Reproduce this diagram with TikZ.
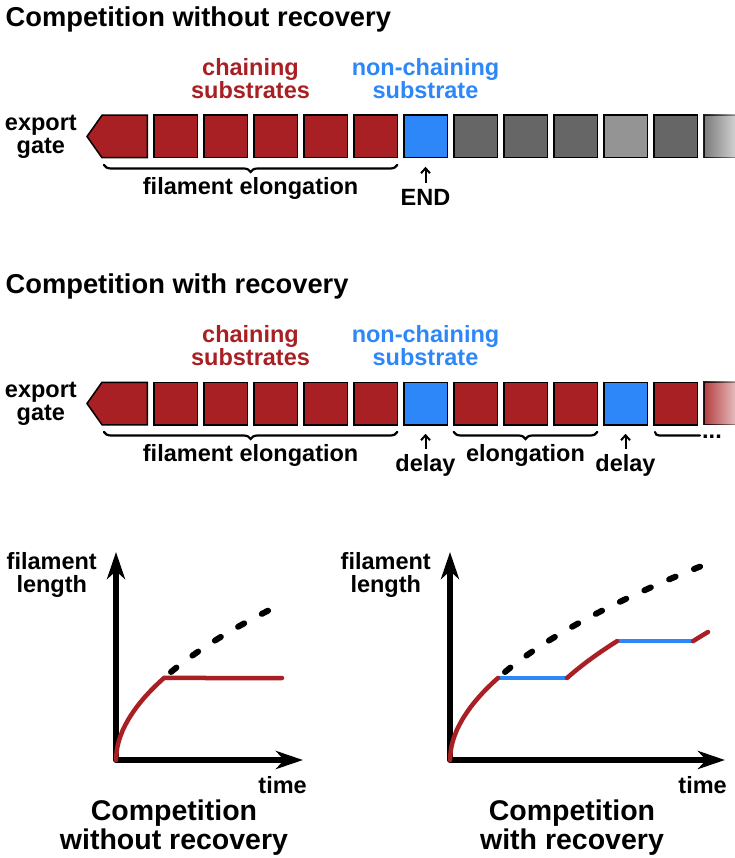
\documentclass[tikz,border=0pt]{standalone}
\usepackage{fontspec}
\setmainfont{Liberation Sans}
\usetikzlibrary{positioning, arrows.meta, decorations.pathreplacing, fadings}

\definecolor{chainred}{RGB}{168,32,36}
\definecolor{stopblue}{RGB}{46,135,248}
\definecolor{boxgray}{RGB}{102,102,102}
\definecolor{boxpale}{RGB}{148,148,148}
\tikzfading[name=fadeout, left color=transparent!0, middle color=transparent!100, right color=transparent!100]

\begin{document}
\begin{tikzpicture}[
    x=1pt, y=1pt,
    node distance=6.5pt,
    declare function={grow(\x)=82*(\x/48)^0.52;},
    chainbox/.style={rectangle, draw, line width=1.5pt, fill=chainred, minimum width=43.5pt, minimum height=42.5pt, inner sep=0pt, outer sep=0pt},
    stopbox/.style={chainbox, fill=stopblue},
    idlebox/.style={chainbox, fill=boxgray},
    palebox/.style={chainbox, fill=boxpale},
    gate/.style={draw, line width=1.5pt, fill=chainred},
    heading/.style={font=\fontsize{27.3}{30}\selectfont\bfseries, inner sep=0pt},
    note/.style={font=\fontsize{23.5}{23}\selectfont\bfseries, inner sep=0pt, align=center},
    plottitle/.style={font=\fontsize{28.5}{29}\selectfont\bfseries, inner sep=0pt, align=center},
    span/.style={decorate, decoration={brace, mirror, amplitude=7pt}, line width=2.2pt, line cap=round},
    pointer/.style={-{Straight Barb[length=5pt, width=9pt]}, line width=2pt, shorten <=6pt, shorten >=9pt},
    axisline/.style={line width=6pt, line join=round, {Stealth[length=27pt, width=18pt, inset=8pt]}-{Stealth[length=27pt, width=18pt, inset=8pt]}},
    growth/.style={chainred, line width=4.5pt, line cap=round},
    stall/.style={stopblue, line width=4.5pt},
    ideal/.style={line width=6pt, line cap=round, dash pattern=on 7pt off 20pt}
]
    \useasboundingbox (0,0) rectangle (734,-858);

    % Without recovery
    \node[heading, anchor=base west] (title1) at (5.5,-27) {Competition without recovery};
    \node[chainbox] (a1) at (175.5,-136.5) {};
    \node[chainbox, right=of a1] (a2) {};
    \node[chainbox, right=of a2] (a3) {};
    \node[chainbox, right=of a3] (a4) {};
    \node[chainbox, right=of a4] (a5) {};
    \node[stopbox, right=of a5] (a6) {};
    \node[idlebox, right=of a6] (a7) {};
    \node[idlebox, right=of a7] (a8) {};
    \node[idlebox, right=of a8] (a9) {};
    \node[palebox, right=of a9] (a10) {};
    \node[idlebox, right=of a10] (a11) {};
    \begin{scope}
        \path[scope fading=fadeout] ([shift={(-1pt,5pt)}]a11.north east) rectangle ([shift={(55pt,-5pt)}]a11.south east);
        \node[idlebox, right=of a11] (a12) {};
    \end{scope}
    \draw[gate] ([xshift=-6.5pt]a1.north west) -- ++(-45.25,0) -- ++(-15,-21.25) coordinate (gtip1)
        -- ++(15,-21.25) coordinate (gsw1) -- ([xshift=-6.5pt]a1.south west) -- cycle;
    \node[note, left=10pt of gtip1] (gatelbl1) {export\\gate};
    \node[note, text=chainred, above=16pt of a2.north east, xshift=3.25pt] (chainlbl1) {chaining\\substrates};
    \node[note, text=stopblue, above=16pt of a6] (stoplbl1) {non-chaining\\substrate};
    \draw[span] ([shift={(2pt,-7.25pt)}]gsw1) -- node[note, below=11pt] (elong1) {filament elongation} ([yshift=-7.25pt]a5.south east);
    \node[note, below=31pt of a6] (endlbl) {END};
    \draw[pointer] (endlbl) -- (a6);

    % With recovery
    \node[heading, anchor=base west] (title2) at (5.5,-293.3) {Competition with recovery};
    \node[chainbox] (b1) at (175.5,-403.5) {};
    \node[chainbox, right=of b1] (b2) {};
    \node[chainbox, right=of b2] (b3) {};
    \node[chainbox, right=of b3] (b4) {};
    \node[chainbox, right=of b4] (b5) {};
    \node[stopbox, right=of b5] (b6) {};
    \node[chainbox, right=of b6] (b7) {};
    \node[chainbox, right=of b7] (b8) {};
    \node[chainbox, right=of b8] (b9) {};
    \node[stopbox, right=of b9] (b10) {};
    \node[chainbox, right=of b10] (b11) {};
    \begin{scope}
        \path[scope fading=fadeout] ([shift={(-1pt,5pt)}]b11.north east) rectangle ([shift={(55pt,-5pt)}]b11.south east);
        \node[chainbox, right=of b11] (b12) {};
    \end{scope}
    \draw[gate] ([xshift=-6.5pt]b1.north west) -- ++(-45.25,0) -- ++(-15,-21.25) coordinate (gtip2)
        -- ++(15,-21.25) coordinate (gsw2) -- ([xshift=-6.5pt]b1.south west) -- cycle;
    \node[note, left=10pt of gtip2] (gatelbl2) {export\\gate};
    \node[note, text=chainred, above=16pt of b2.north east, xshift=3.25pt] (chainlbl2) {chaining\\substrates};
    \node[note, text=stopblue, above=16pt of b6] (stoplbl2) {non-chaining\\substrate};
    \draw[span] ([shift={(2pt,-7.25pt)}]gsw2) -- node[note, below=11pt] (elong2) {filament elongation} ([yshift=-7.25pt]b5.south east);
    \draw[span] ([yshift=-7.25pt]b7.south west) -- node[note, below=11pt] (elong3) {elongation} ([yshift=-7.25pt]b9.south east);
    \draw[line width=2.2pt, line cap=round] ([shift={(1.25pt,-7.25pt)}]b11.south west) to[out=-90, in=180] ++(4pt,-3.5pt) -- ++(41pt,0) coordinate (more1);
    \node[note, anchor=base west] (moredots) at ([shift={(2pt,-3pt)}]more1) {...};
    \node[note, below=30pt of b6] (delay1) {delay};
    \draw[pointer] (delay1) -- (b6);
    \node[note, below=30pt of b10] (delay2) {delay};
    \draw[pointer] (delay2) -- (b10);

    % Plot without recovery
    \coordinate (o1) at (116,-760);
    \coordinate (ytip1) at (116,-552);
    \coordinate (xtip1) at (303,-760);
    \draw[axisline] (ytip1) -- (o1) -- (xtip1);
    \begin{scope}[shift={(o1)}]
        \draw[growth] (0,0) -- plot[domain=0.02:48, samples=60] (\x,{grow(\x)}) -- (166,{grow(48)});
        \draw[ideal] plot[domain=55:154, samples=30] (\x,{grow(\x)});
    \end{scope}
    \node[note, anchor=north east] (ylbl1) at ([xshift=-19pt]ytip1) {filament\\length};
    \node[note, anchor=base east] (time1) at ([shift={(4pt,-33pt)}]xtip1) {time};
    \node[plottitle, anchor=north] (ptitle1) at (174,-800) {Competition\\without recovery};

    % Plot with recovery
    \coordinate (o2) at (450,-760);
    \coordinate (ytip2) at (450,-552);
    \coordinate (xtip2) at (725,-760);
    \draw[axisline] (ytip2) -- (o2) -- (xtip2);
    \begin{scope}[shift={(o2)}]
        \draw[stall] (48,{grow(48)}) -- (117,{grow(48)});
        \draw[stall] (167,{grow(98)}) -- (243,{grow(98)});
        \draw[growth] (0,0) -- plot[domain=0.02:48, samples=60] (\x,{grow(\x)});
        \draw[growth] plot[domain=48:98, samples=20] ({\x+69},{grow(\x)});
        \draw[growth] plot[domain=98:113, samples=8] ({\x+145},{grow(\x)});
        \draw[ideal] plot[domain=55:250, samples=50] (\x,{grow(\x)});
    \end{scope}
    \node[note, anchor=north east] (ylbl2) at ([xshift=-19pt]ytip2) {filament\\length};
    \node[note, anchor=base east] (time2) at ([shift={(2pt,-33pt)}]xtip2) {time};
    \node[plottitle, anchor=north] (ptitle2) at (572,-800) {Competition\\with recovery};
\end{tikzpicture}
\end{document}
